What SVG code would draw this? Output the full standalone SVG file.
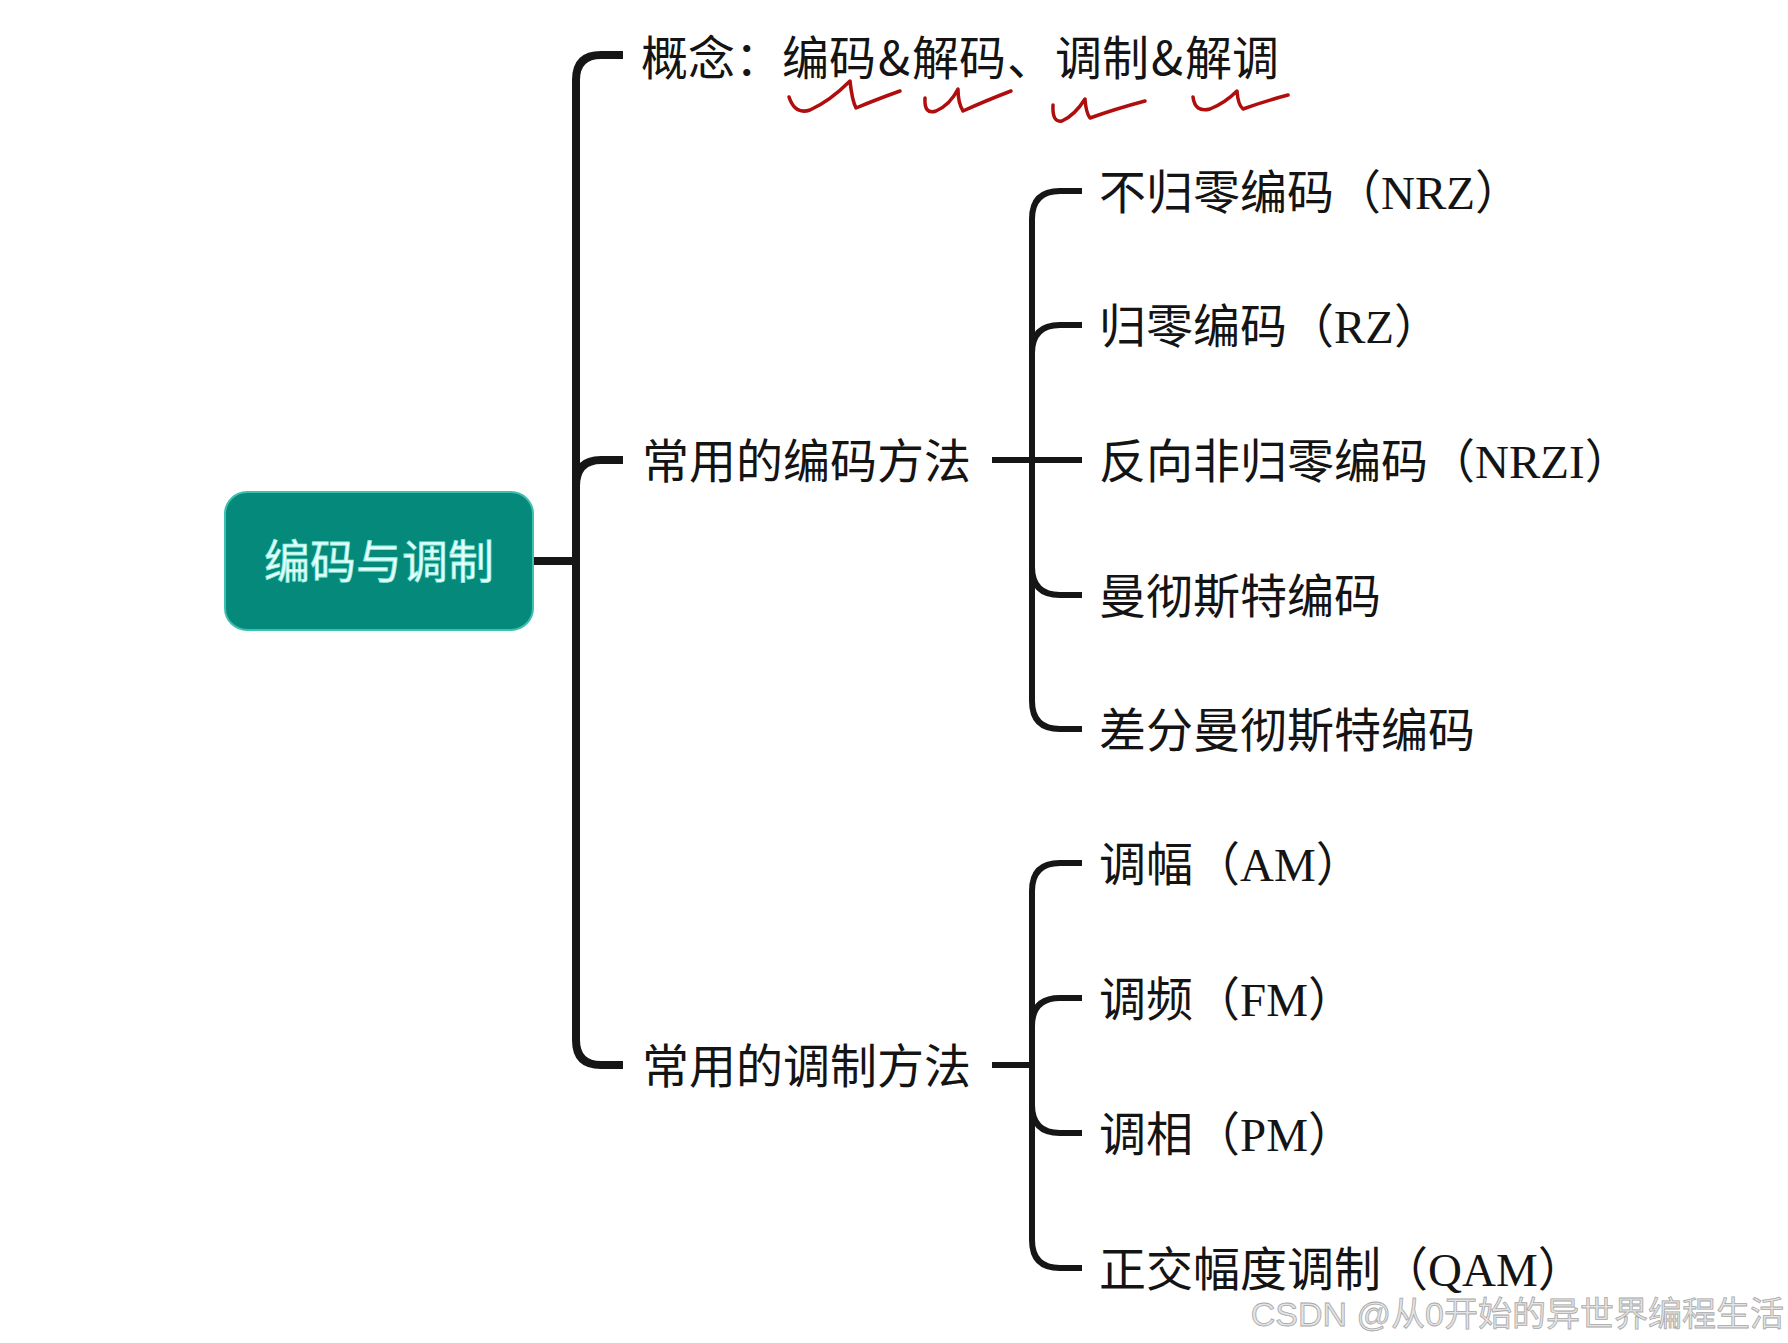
<svg xmlns="http://www.w3.org/2000/svg" width="1788" height="1343" viewBox="0 0 1788 1343">
<style>
.ln{fill:none;stroke:#161616;stroke-linecap:butt;stroke-linejoin:round}
.l1{stroke-width:8}
.l2{stroke-width:6}
.t{font-family:"Noto Sans CJK SC","Noto Sans",sans-serif;font-size:47px;fill:#141414}
.ts{font-family:"Liberation Serif","Noto Sans CJK SC",serif;font-size:47px;fill:#141414}
.sq{fill:none;stroke:#b00d0d;stroke-width:3.5;stroke-linecap:round;stroke-linejoin:round}
</style>
<rect width="1788" height="1343" fill="#ffffff"/>
<g id="connectors">
<path class="ln l1" d="M533,561 H576"/>
<path class="ln l1" d="M623,55 H601 Q576,55 576,80 V1040 Q576,1065 601,1065 H623"/>
<path class="ln l1" d="M576,486 Q576,460 601,460 H623"/>
<path class="ln l2" d="M992,460 H1082"/>
<path class="ln l2" d="M1082,191 H1060 Q1032,191 1032,219 V701 Q1032,729 1060,729 H1082"/>
<path class="ln l2" d="M1032,353 Q1032,325 1060,325 H1082"/>
<path class="ln l2" d="M1032,567 Q1032,595 1060,595 H1082"/>
<path class="ln l2" d="M992,1065 H1032"/>
<path class="ln l2" d="M1082,863 H1060 Q1032,863 1032,891 V1240 Q1032,1268 1060,1268 H1082"/>
<path class="ln l2" d="M1032,1026 Q1032,998 1060,998 H1082"/>
<path class="ln l2" d="M1032,1105 Q1032,1133 1060,1133 H1082"/>
</g>
<g id="root">
<rect x="225" y="492" width="308" height="138" rx="22" fill="#05897a" stroke="#3fbfae" stroke-width="2"/>
<text x="379" y="578" text-anchor="middle" font-family="'Noto Sans CJK SC','Noto Sans',sans-serif" font-size="46" fill="#eafffb" stroke="#8ff0e0" stroke-width="0.8">编码与调制</text>
</g>
<g id="concept">
<text class="t" x="641" y="75">概念：编码<tspan dx="2">&amp;</tspan><tspan dx="2">解码</tspan><tspan dx="1">、</tspan><tspan dx="1">调制</tspan><tspan dx="2">&amp;</tspan><tspan dx="2">解调</tspan></text>
<path class="sq" d="M789,97 Q795,115 810,110 Q830,101 850,81 Q852,100 856,108 Q875,100 900,91"/>
<path class="sq" d="M925,98 Q924,115 936,111 Q950,105 958,89 Q958,103 963,111 Q985,101 1011,91"/>
<path class="sq" d="M1053,105 Q1052,123 1062,121 Q1075,115 1085,99 Q1086,113 1090,118 Q1115,109 1145,101"/>
<path class="sq" d="M1193,97 Q1195,113 1210,109 Q1225,103 1237,91 Q1238,105 1243,109 Q1265,101 1288,95"/>
</g>
<g id="coding-methods"><text class="t" x="642" y="478">常用的编码方法</text></g>
<g id="modulation-methods"><text class="t" x="642" y="1083">常用的调制方法</text></g>
<g id="nrz"><text class="ts" x="1099" y="209">不归零编码（NRZ）</text></g>
<g id="rz"><text class="ts" x="1099" y="343">归零编码（RZ）</text></g>
<g id="nrzi"><text class="ts" x="1099" y="478">反向非归零编码（NRZI）</text></g>
<g id="manchester"><text class="t" x="1099" y="613">曼彻斯特编码</text></g>
<g id="diff-manchester"><text class="t" x="1099" y="747">差分曼彻斯特编码</text></g>
<g id="am"><text class="ts" x="1099" y="881">调幅（AM）</text></g>
<g id="fm"><text class="ts" x="1099" y="1016">调频（FM）</text></g>
<g id="pm"><text class="ts" x="1099" y="1151">调相（PM）</text></g>
<g id="qam"><text class="ts" x="1099" y="1286">正交幅度调制（QAM）</text></g>
<text x="1784" y="1326" text-anchor="end" font-family="'Liberation Sans','Noto Sans CJK SC',sans-serif" font-size="34" fill="#e4e4e4" stroke="#a8a8a8" stroke-width="0.8">CSDN @从0开始的异世界编程生活</text>
</svg>
